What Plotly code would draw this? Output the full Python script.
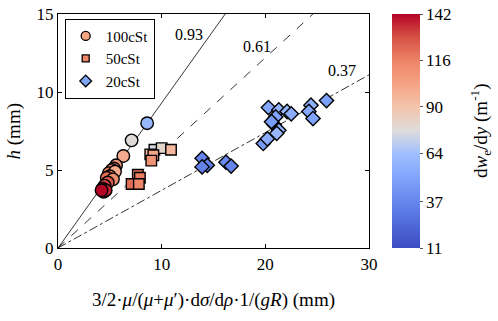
import plotly.graph_objects as go

# 100 cSt (circles)
x100 = [8.6, 7.1, 6.3, 5.6, 5.4, 5.2, 4.9, 5.5, 5.0, 4.7, 5.3, 4.8, 4.5, 4.3, 4.4, 4.6, 4.2]
y100 = [8.0, 6.9, 5.9, 5.3, 5.1, 5.0, 4.8, 4.9, 4.6, 4.5, 4.4, 4.2, 4.0, 3.8, 3.6, 3.7, 3.7]
c100 = [60, 78, 100, 106, 110, 114, 117, 100, 120, 122, 112, 127, 132, 140, 142, 137, 142]

# 50 cSt (squares)
x50 = [9.3, 10.0, 10.9, 8.9, 9.2, 9.0, 7.7, 7.9, 7.1, 7.8]
y50 = [6.3, 6.4, 6.3, 6.0, 5.95, 5.6, 4.7, 4.5, 4.1, 4.1]
c50 = [75, 80, 95, 95, 102, 110, 120, 118, 122, 115]

# 20 cSt (diamonds)
x20 = [13.9, 14.4, 13.9, 16.2, 16.7, 19.8, 20.2, 20.3, 21.3, 22.1, 22.5, 21.0,
       20.85, 21.3, 21.1, 24.4, 24.2, 24.6, 25.9, 20.6]
y20 = [5.75, 5.3, 5.2, 5.5, 5.25, 6.7, 7.0, 9.0, 8.85, 8.75, 8.6, 8.4,
       7.9, 7.55, 7.35, 9.15, 8.75, 8.3, 9.45, 8.1]
c20 = [36, 33, 35, 38, 36, 45, 55, 52, 58, 60, 55, 50, 45, 58, 60, 56, 52, 50, 48, 47]

# fitted slopes and their labels
slopes = [0.93, 0.61, 0.37]
slope_labels = ["0.93", "0.61", "0.37"]
label_pos = [(12.6, 13.7), (19.2, 12.9), (27.4, 11.4)]
dashes = ["solid", "dash", "dashdot"]

cbar_ticks = [11, 37, 64, 90, 116, 142]

xmax, ymax = 30, 15

coolwarm = [
    [0.0, "#3b4cc0"], [0.1, "#4f69d9"], [0.2, "#6788ee"], [0.3, "#81a4fb"],
    [0.4, "#9ebeff"], [0.5, "#dddcdc"], [0.6, "#f4c5ad"], [0.7, "#f6a385"],
    [0.8, "#ee8468"], [0.9, "#d65244"], [1.0, "#b40426"],
]

serif = "'Liberation Serif', 'Times New Roman', Tinos, 'DejaVu Serif', serif"

fig = go.Figure()

for s, d in zip(slopes, dashes):
    xe = min(xmax, ymax / s)
    fig.add_trace(go.Scatter(
        x=[0, xe], y=[0, s * xe], mode="lines",
        line=dict(color="black", width=0.8, dash=d),
        showlegend=False, hoverinfo="skip",
    ))

series = [
    ("100cSt", x100, y100, c100, "circle", 12.5, "#f4a582"),
    ("50cSt", x50, y50, c50, "square", 10.5, "#ee8468"),
    ("20cSt", x20, y20, c20, "diamond", 11, "#7ea6f8"),
]

for name, xs, ys, cs, sym, sz, lc in series:
    fig.add_trace(go.Scatter(
        x=xs, y=ys, mode="markers", name=name, showlegend=False,
        marker=dict(symbol=sym, size=sz, color=cs, coloraxis="coloraxis",
                    line=dict(color="black", width=1.4)),
    ))

# legend entries with fixed colours
leg_sizes = {"circle": 9, "square": 7, "diamond": 9}
for name, xs, ys, cs, sym, sz, lc in series:
    fig.add_trace(go.Scatter(
        x=[None], y=[None], mode="markers", name=name,
        marker=dict(symbol=sym, size=leg_sizes[sym], color=lc,
                    line=dict(color="black", width=1.3)),
    ))

for (lx, ly), t in zip(label_pos, slope_labels):
    fig.add_annotation(x=lx, y=ly, text=t, showarrow=False,
                       font=dict(family=serif, size=16, color="black"))

fig.add_annotation(
    xref="paper", yref="paper", x=0.5, y=-0.222, showarrow=False,
    xanchor="center", yanchor="middle",
    text="3/2·<i>μ</i>/(<i>μ</i>+<i>μ</i>′)·d<i>σ</i>/d<i>ρ</i>·1/(<i>gR</i>) (mm)",
    font=dict(family=serif, size=19, color="black"),
)
fig.add_annotation(
    xref="paper", yref="paper", x=-0.14, y=0.5, showarrow=False, textangle=-90,
    xanchor="center", yanchor="middle",
    text="<i>h</i> (mm)", font=dict(family=serif, size=19, color="black"),
)
fig.add_annotation(
    xref="paper", yref="paper", x=1.357, y=0.5, showarrow=False, textangle=-90,
    xanchor="center", yanchor="middle",
    text="d<i>w</i><sub>e</sub>/d<i>y</i> (m<sup>-1</sup>)",
    font=dict(family=serif, size=19, color="black"),
)

axis_style = dict(
    showline=True, linecolor="black", linewidth=1.3, mirror="ticks",
    ticks="inside", ticklen=4, tickcolor="black", showgrid=False, zeroline=False,
    tickfont=dict(family=serif, size=17, color="black"),
)

fig.update_layout(
    width=498, height=321,
    margin=dict(l=58, r=129, t=14, b=73, autoexpand=False),
    paper_bgcolor="white", plot_bgcolor="white",
    font=dict(family=serif),
    xaxis=dict(range=[0, xmax], tickvals=[0, 10, 20, 30], **axis_style),
    yaxis=dict(range=[0, ymax], tickvals=[0, 5, 10, 15], **axis_style),
    coloraxis=dict(
        colorscale=coolwarm, cmin=11, cmax=142,
        colorbar=dict(
            x=1.074, xanchor="left", y=0.5, yanchor="middle", len=1,
            xpad=0, ypad=0,
            thickness=28, outlinewidth=0, tickvals=cbar_ticks,
            ticks="outside", ticklen=3, tickcolor="#555",
            tickfont=dict(family=serif, size=17, color="black"),
        ),
    ),
    legend=dict(
        x=0.0215, y=0.98, xanchor="left", yanchor="top",
        bgcolor="white", bordercolor="black", borderwidth=1,
        font=dict(family=serif, size=15, color="black"),
        tracegroupgap=0, itemsizing="trace",
    ),
)

# drop the default page margin so the figure sits at the window's corner
fig.write_html("out.html", config={"displayModeBar": False},
               post_script="document.body.style.margin='0';")
